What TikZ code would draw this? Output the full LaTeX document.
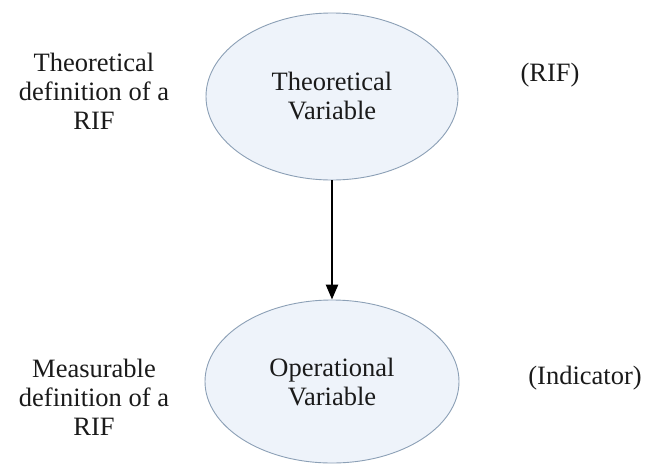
\documentclass[tikz,border=0pt]{standalone}
\usepackage{fontspec}
\setmainfont{Liberation Serif}
\usetikzlibrary{shapes.geometric,arrows.meta}
\definecolor{ovalfill}{HTML}{EEF3FA}
\definecolor{ovalline}{HTML}{8CA0B6}
\definecolor{ink}{HTML}{1A1A1A}
\tikzset{
  oval/.style={ellipse, draw=ovalline, line width=0.9pt, fill=ovalfill,
    inner sep=0pt, align=center, text=ink},
  label/.style={align=center, text=ink, inner sep=0pt},
  txt/.style={font=\fontsize{26.5}{29}\selectfont}
}
\begin{document}
\begin{tikzpicture}[x=1pt, y=-1pt, every node/.style={txt}]
  \useasboundingbox[fill=white] (0,0) rectangle (647,464);
  % the two variables
  \node[oval, minimum width=252pt, minimum height=167pt] (theo) at (332,96.5)
    {Theoretical\\Variable};
  \node[oval, minimum width=254pt, minimum height=163pt] (oper) at (332,381.5)
    {Operational\\Variable};
  % definitions on the left
  \node[label] (tdef) at (94,91) {Theoretical\\definition of a\\RIF};
  \node[label] (mdef) at (94,397) {Measurable\\definition of a\\RIF};
  % role tags on the right
  \node[label] (rif) at (550,75) {(RIF)};
  \node[label] (ind) at (585,378) {(Indicator)};
  % link from theory to measurement
  \draw[-{Triangle[length=15pt,width=12pt]}, line width=2.5pt, black]
    (theo.south) -- (oper.north);
\end{tikzpicture}
\end{document}
